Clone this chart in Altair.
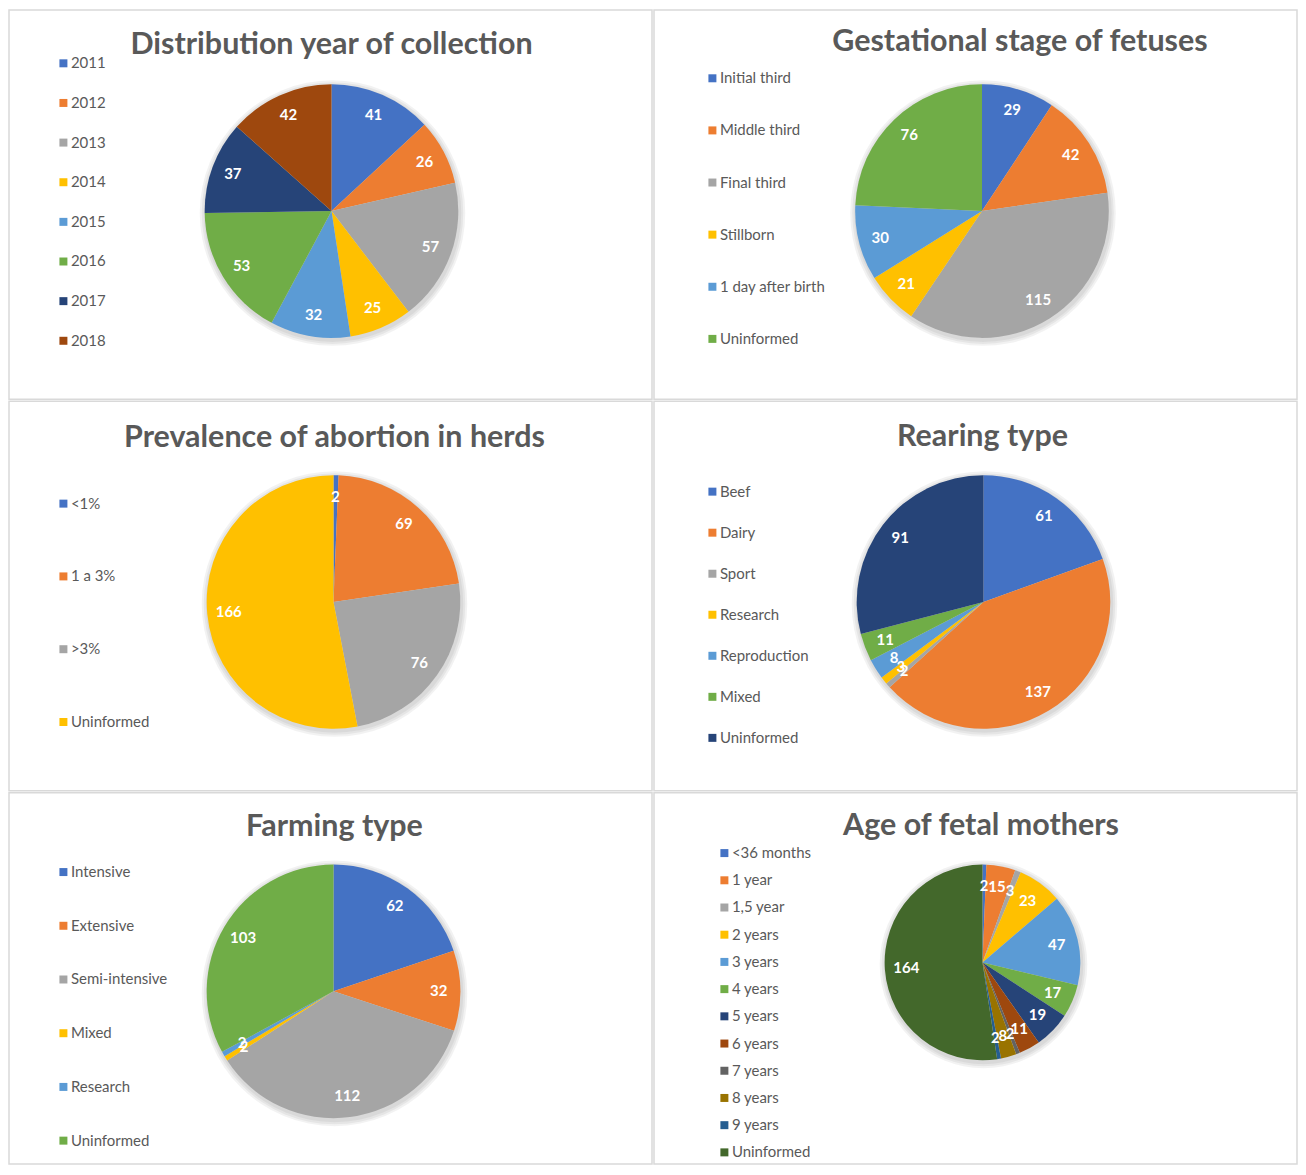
import math
import altair as alt
import pandas as pd

# ---------------- data ----------------
year_cats = ["2011", "2012", "2013", "2014", "2015", "2016", "2017", "2018"]
year_vals = [41, 26, 57, 25, 32, 53, 37, 42]

gest_cats = ["Initial third", "Middle third", "Final third", "Stillborn", "1 day after birth", "Uninformed"]
gest_vals = [29, 42, 115, 21, 30, 76]

prev_cats = ["<1%", "1 a 3%", ">3%", "Uninformed"]
prev_vals = [2, 69, 76, 166]

rear_cats = ["Beef", "Dairy", "Sport", "Research", "Reproduction", "Mixed", "Uninformed"]
rear_vals = [61, 137, 2, 3, 8, 11, 91]

farm_cats = ["Intensive", "Extensive", "Semi-intensive", "Mixed", "Research", "Uninformed"]
farm_vals = [62, 32, 112, 2, 2, 103]

age_cats = ["<36 months", "1 year", "1,5 year", "2 years", "3 years", "4 years", "5 years",
            "6 years", "7 years", "8 years", "9 years", "Uninformed"]
age_vals = [2, 15, 3, 23, 47, 17, 19, 11, 2, 8, 2, 164]

office = ["#4472C4", "#ED7D31", "#A5A5A5", "#FFC000", "#5B9BD5", "#70AD47",
          "#264478", "#9E480E", "#636363", "#997300", "#255E91", "#43682B"]

W = 644
FONT = "Lato"
GREY = "#595959"


def panel(title, cats, vals, colors, h, cx, cy, r, tx, ty, lx, ly, rowpad, lr=0.83, lfs=15):
    df = pd.DataFrame({"cat": cats, "val": vals, "idx": list(range(len(cats)))})
    base = alt.Chart(df).encode(
        theta=alt.Theta("val:Q", stack=True),
        order=alt.Order("idx:Q", sort="ascending"),
    )
    color = alt.Color(
        "cat:N",
        scale=alt.Scale(domain=cats, range=colors),
        sort=cats,
        legend=alt.Legend(
            title=None, orient="none", legendX=lx, legendY=ly, padding=0,
            rowPadding=rowpad, symbolType="square", symbolSize=64,
            symbolStrokeWidth=0, labelFontSize=lfs, labelFont=FONT,
            labelColor=GREY, labelOffset=0,
        ),
    )
    one = pd.DataFrame({"k": [0]})
    shadow = alt.layer(
        *[
            alt.Chart(one).mark_arc(
                theta=0, theta2=2 * math.pi, outerRadius=r + d, color="#000000", opacity=0.05
            ).encode(x=alt.value(cx + 1), y=alt.value(cy + 2))
            for d in (2, 4, 6)
        ]
    )
    arcs = base.mark_arc(outerRadius=r).encode(
        color=color, x=alt.value(cx), y=alt.value(cy)
    )
    labels = base.mark_text(
        radius=r * lr, color="white", fontSize=15, fontWeight="bold", font=FONT,
        align="center", baseline="middle",
    ).encode(text="val:Q", x=alt.value(cx), y=alt.value(cy))
    ttl = alt.Chart(pd.DataFrame({"t": [title]})).mark_text(
        fontSize=30.5, fontWeight="bold", font=FONT, color=GREY,
        align="center", baseline="middle",
    ).encode(text="t:N", x=alt.value(tx), y=alt.value(ty))
    return alt.layer(shadow, arcs, labels, ttl).properties(width=W, height=h)


p1 = panel("Distribution year of collection", year_cats, year_vals, office[:8], 390,
           323, 201.5, 127, 323, 35, 47, 46, 23.7)
p2 = panel("Gestational stage of fetuses", gest_cats, gest_vals, office[:6], 390,
           328.5, 201.5, 127, 366.5, 32, 51, 61, 36.2)
p3 = panel("Prevalence of abortion in herds", prev_cats, prev_vals, office[:4], 390,
           325, 201, 127, 326, 37, 47, 95, 56.9)
p4 = panel("Rearing type", rear_cats, rear_vals, office[:7], 390,
           330, 201, 127, 329, 36, 51, 83, 25.1)
p5 = panel("Farming type", farm_cats, farm_vals, office[:6], 372,
           325, 199, 127, 326, 34, 47, 72, 37.8)
p6 = panel("Age of fetal mothers", age_cats, age_vals, office[:12], 372,
           329, 170, 98, 327.5, 33, 63, 53, 11.25, lr=0.78)

row1 = alt.hconcat(p1, p2, spacing=0).resolve_scale(color="independent")
row2 = alt.hconcat(p3, p4, spacing=0).resolve_scale(color="independent")
row3 = alt.hconcat(p5, p6, spacing=0).resolve_scale(color="independent")

chart = (
    alt.vconcat(row1, row2, row3, spacing=0)
    .resolve_scale(color="independent")
    .configure_view(stroke="#D9D9D9", strokeWidth=1.5)
    .properties(padding=0, background="white")
)

chart.save("out.html", embed_options={"renderer": "svg", "actions": False})
